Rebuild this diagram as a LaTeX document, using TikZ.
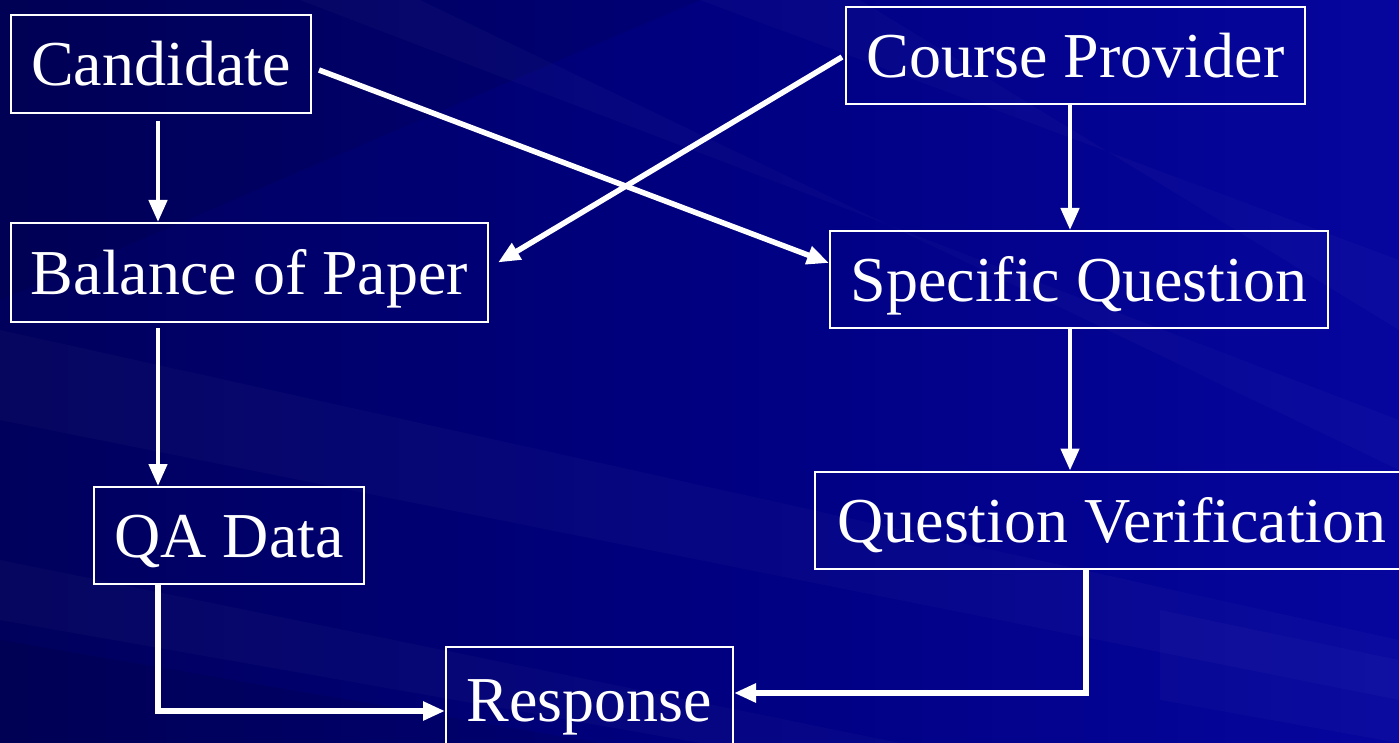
\documentclass[tikz,border=0pt]{standalone}
\usepackage{fontspec}
\setmainfont{Liberation Serif}
\newfontfamily\tnrfont{Liberation Serif}
\usetikzlibrary{arrows.meta,calc}
\definecolor{bgL}{RGB}{0,0,92}
\definecolor{bgR}{RGB}{6,6,158}
\definecolor{bgM}{RGB}{0,0,128}
\tikzset{
  box/.style={draw=white, line width=2pt, text=white, inner sep=0pt,
    font=\tnrfont\fontsize{64}{70}\selectfont, text height=44pt, text depth=0pt, align=center},
  conn/.style={draw=white, line width=4.5pt, -{Triangle[length=22pt,width=18pt]}},
  thickconn/.style={conn, line width=5.5pt},
  streak/.style={fill=white, opacity=0.025},
  dstreak/.style={fill=black, opacity=0.08}
}
\begin{document}
\begin{tikzpicture}[x=1pt,y=-1pt]
\useasboundingbox (0,0) rectangle (1399,743);
% background
\shade[left color=bgL, right color=bgR, middle color=bgM] (0,0) rectangle (1399,743);
\fill[dstreak] (0,0) -- (700,0) -- (0,300) -- cycle;
\fill[streak] (0,330) -- (1399,640) -- (1399,700) -- (0,420) -- cycle;
\fill[streak] (300,0) -- (1399,420) -- (1399,470) -- (420,0) -- cycle;
\fill[streak] (700,0) -- (1399,260) -- (1399,330) -- (860,0) -- cycle;
\fill[streak] (0,560) -- (900,743) -- (700,743) -- (0,620) -- cycle;
\fill[streak] (1160,610) -- (1399,660) -- (1399,743) -- (1160,700) -- cycle;
\fill[dstreak] (0,640) -- (600,743) -- (0,743) -- cycle;
% nodes
\node[box, minimum width=300pt, minimum height=98pt] (cand) at (161,64) {Candidate};
\node[box, minimum width=459pt, minimum height=97pt] (cp) at (1075.5,55.5) {Course Provider};
\node[box, minimum width=477pt, minimum height=99pt] (bal) at (249.5,272.5) {Balance of Paper};
\node[box, minimum width=498pt, minimum height=97pt] (sq) at (1079,279.5) {Specific Question};
\node[box, minimum width=270pt, minimum height=97pt] (qa) at (229,535.5) {QA Data};
\node[box, minimum width=594pt, minimum height=97pt] (qv) at (1112,520) {Question Verification};
\node[box, minimum width=287pt, minimum height=104pt] (resp) at (589.5,699) {Response};
% connectors
\draw[conn] ([xshift=-3pt,yshift=-7pt]cand.south) -- ([xshift=-3pt]cand.south |- bal.north);
\draw[thickconn] ([xshift=7pt,yshift=-6pt]cand.east) -- ([yshift=16.5pt]sq.west);
\draw[thickconn] ([xshift=-3pt,yshift=-1.5pt]cp.west) -- ([xshift=9pt,yshift=10pt]bal.east);
\draw[conn] ([xshift=-5.5pt]cp.south) -- ([xshift=-5.5pt]cp.south |- sq.north);
\draw[conn] ([xshift=-91.5pt,yshift=-5pt]bal.south) -- ([xshift=-91.5pt]bal.south |- qa.north);
\draw[conn] ([xshift=-9pt]sq.south) -- ([xshift=-9pt]sq.south |- qv.north);
\draw[thickconn] ([xshift=-71pt]qa.south) |- ([yshift=-12pt]resp.west);
\draw[thickconn] ([xshift=-26pt]qv.south) |- ([yshift=6pt]resp.east);
\end{tikzpicture}
\end{document}
